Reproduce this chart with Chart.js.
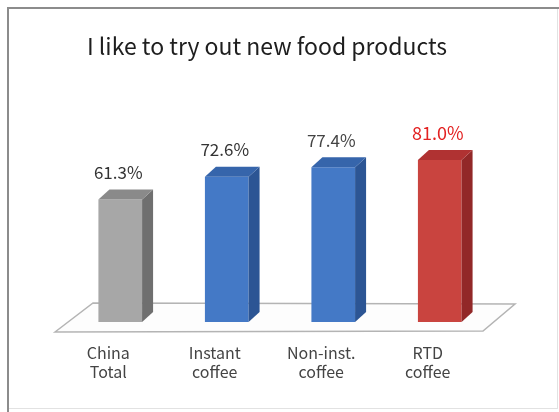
<!DOCTYPE html>
<html lang="en">
<head>
    <meta charset="utf-8" />
    <title>I like to try out new food products</title>
    <script src="https://cdn.jsdelivr.net/npm/chart.js@4/dist/chart.umd.min.js"></script>
    <style>
        html, body { margin: 0; padding: 0; background: #fff; }
        #wrap { width: 559px; height: 412px; }
    </style>
</head>
<body>
    <div id="wrap"><canvas id="chart" width="559" height="412"></canvas></div>

    <script>
        // data
        var categories = [['China', 'Total'], ['Instant', 'coffee'], ['Non-inst.', 'coffee'], ['RTD', 'coffee']];
        var shares = [61.3, 72.6, 77.4, 81.0];
        var valueLabels = ['61.3%', '72.6%', '77.4%', '81.0%'];
        var chartTitle = 'I like to try out new food products';

        // front / side / top colours for each bar
        var frontColors = ['#a7a7a7', '#4479c6', '#4479c6', '#c9443f'];
        var sideColors = ['#6f6f6f', '#2c5594', '#2c5594', '#922828'];
        var topColors = ['#8a8a8a', '#3665ab', '#3665ab', '#b03232'];
        var labelColors = ['#333333', '#333333', '#444444', '#e32222'];

        var DX = 11, DY = 10; // depth of the 3d bars

        var FONT = "'Noto Sans CJK KR', 'Noto Sans', sans-serif";

        // frame, title and floor plate behind the bars
        var backdrop = {
            id: 'backdrop',
            beforeDraw: function (chart) {
                var ctx = chart.ctx;
                ctx.save();
                ctx.fillStyle = '#fff';
                ctx.fillRect(0, 0, chart.width, chart.height);
                ctx.strokeStyle = '#e2e2e2';
                ctx.lineWidth = 1;
                ctx.strokeRect(8.5, 8.5, chart.width - 10, chart.height - 12);
                ctx.fillStyle = '#8c8c8c';
                ctx.fillRect(7, 7, chart.width - 7, 2);
                ctx.fillRect(7, 7, 2, chart.height - 7);

                ctx.fillStyle = '#1e1e1e';
                ctx.font = '23px ' + FONT;
                ctx.textAlign = 'center';
                ctx.textBaseline = 'middle';
                ctx.fillText(chartTitle, 267, 46);
                ctx.restore();
            },
            beforeDatasetsDraw: function (chart) {
                var ctx = chart.ctx;
                var x = chart.scales.x, y = chart.scales.y;
                var base = y.getPixelForValue(0);
                var fl = x.left - 12, fr = x.right - 10, fy = base + 10;
                ctx.save();
                ctx.beginPath();
                ctx.moveTo(fl, fy);
                ctx.lineTo(fl + 38, fy - 29);
                ctx.lineTo(fr + 32, fy - 28);
                ctx.lineTo(fr, fy - 1);
                ctx.closePath();
                ctx.fillStyle = '#fdfdfd';
                ctx.fill();
                ctx.strokeStyle = '#b4b4b4';
                ctx.lineWidth = 1.5;
                ctx.stroke();
                ctx.restore();
            }
        };

        // side and top faces, then the value labels
        var bars3d = {
            id: 'bars3d',
            afterDatasetsDraw: function (chart) {
                var ctx = chart.ctx;
                var meta = chart.getDatasetMeta(0);
                ctx.save();
                meta.data.forEach(function (bar, i) {
                    var l = bar.x - bar.width / 2, r = bar.x + bar.width / 2;
                    var t = bar.y, b = bar.base;

                    ctx.beginPath();
                    ctx.moveTo(r, t);
                    ctx.lineTo(r + DX, t - DY);
                    ctx.lineTo(r + DX, b - DY);
                    ctx.lineTo(r, b);
                    ctx.closePath();
                    ctx.fillStyle = sideColors[i];
                    ctx.fill();

                    ctx.beginPath();
                    ctx.moveTo(l, t);
                    ctx.lineTo(l + DX, t - DY);
                    ctx.lineTo(r + DX, t - DY);
                    ctx.lineTo(r, t);
                    ctx.closePath();
                    ctx.fillStyle = topColors[i];
                    ctx.fill();

                    ctx.fillStyle = labelColors[i];
                    ctx.font = (i === 3 ? '18px ' : '17px ') + FONT;
                    ctx.textAlign = 'center';
                    ctx.textBaseline = 'middle';
                    ctx.fillText(valueLabels[i], bar.x - 2, t - 27);
                });
                ctx.restore();
            }
        };

        // soft vertical streaks on the front faces
        function frontFill(context) {
            var i = context.dataIndex;
            var bar = context.element;
            if (!bar || bar.width === undefined || isNaN(bar.x)) return frontColors[i];
            var c = context.chart.ctx;
            var l = bar.x - bar.width / 2;
            var g = c.createLinearGradient(l, 0, l + bar.width, 0);
            g.addColorStop(0, frontColors[i]);
            g.addColorStop(0.35, frontColors[i]);
            g.addColorStop(0.5, shade(frontColors[i], 10));
            g.addColorStop(0.8, frontColors[i]);
            g.addColorStop(1, shade(frontColors[i], -12));
            return g;
        }

        function shade(hex, amt) {
            var n = parseInt(hex.slice(1), 16);
            var r = Math.max(0, Math.min(255, (n >> 16) + amt));
            var g = Math.max(0, Math.min(255, ((n >> 8) & 255) + amt));
            var b = Math.max(0, Math.min(255, (n & 255) + amt));
            return 'rgb(' + r + ',' + g + ',' + b + ')';
        }

        new Chart(document.getElementById('chart'), {
            type: 'bar',
            data: {
                labels: categories,
                datasets: [{
                    data: shares,
                    backgroundColor: frontFill,
                    borderWidth: 0,
                    barPercentage: 0.82,
                    categoryPercentage: 0.5
                }]
            },
            options: {
                responsive: false,
                animation: false,
                events: [],
                layout: { padding: { left: 67, right: 66, top: 122, bottom: 0 } },
                plugins: {
                    legend: { display: false },
                    tooltip: { enabled: false },
                    title: { display: false }
                },
                scales: {
                    y: {
                        display: false,
                        min: 0,
                        max: 100
                    },
                    x: {
                        grid: { display: false, drawTicks: false },
                        border: { display: false },
                        ticks: {
                            color: '#444',
                            padding: 21,
                            labelOffset: -12,
                            font: { family: FONT, size: 16 }
                        },
                        afterFit: function (scale) { scale.height = 90; }
                    }
                }
            },
            plugins: [backdrop, bars3d]
        });
    </script>
</body>
</html>
